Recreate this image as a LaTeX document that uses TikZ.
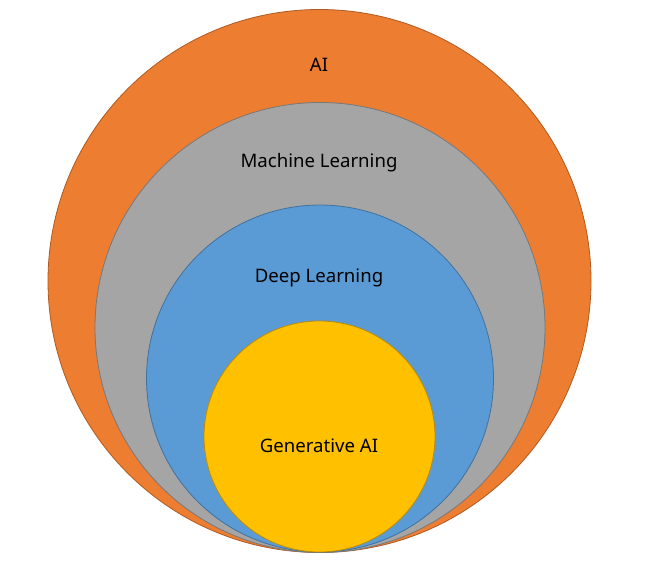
\documentclass[tikz,border=0pt]{standalone}
\usepackage{fontspec}
\setmainfont{Noto Sans}
\usepackage{tikz}
\usetikzlibrary{positioning}
\definecolor{aiorange}{HTML}{ED7D31}
\definecolor{aiorangeline}{HTML}{AE5A21}
\definecolor{mlgray}{HTML}{A5A5A5}
\definecolor{mlgrayline}{HTML}{787878}
\definecolor{dlblue}{HTML}{5B9BD5}
\definecolor{dlblueline}{HTML}{41719C}
\definecolor{genyellow}{HTML}{FFC000}
\definecolor{genyellowline}{HTML}{BC8C00}
\tikzset{
    x=1pt,
    y=-1pt,
    field/.style = {
        draw,
        shape=circle,
        inner sep=0pt,
        line width=0.8pt
    },
    caption/.style = {
        shape=rectangle,
        inner sep=0pt,
        font=\fontsize{18.6}{22}\selectfont
    },
}

\begin{document}
\begin{tikzpicture}
            \useasboundingbox (0,0) rectangle (648,562);
            \node[field, fill=aiorange, draw=aiorangeline, minimum size=543pt] (ai) at (319.5,281) {};
            \node[field, fill=mlgray, draw=mlgrayline, minimum size=450pt] (ml) at (320,327.5) {};
            \node[field, fill=dlblue, draw=dlblueline, minimum size=347pt] (dl) at (320,378.5) {};
            \node[field, fill=genyellow, draw=genyellowline, minimum size=231pt] (gen) at (319.5,436.5) {};

            \node[caption] (ailabel) at (319,65) {AI};
            \node[caption] (mllabel) at (319,163) {Machine Learning};
            \node[caption] (dllabel) at (319,278) {Deep Learning};
            \node[caption] (genlabel) at (319,446) {Generative AI};
        \end{tikzpicture}
\end{document}
